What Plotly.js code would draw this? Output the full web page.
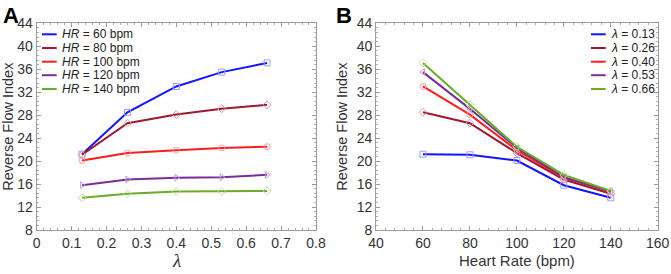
<!DOCTYPE html>
<html><head><meta charset="utf-8">
<script src="https://cdn.plot.ly/plotly-3.0.1.min.js"></script>
<style>body{margin:0;padding:0;background:#fff}#c{width:671px;height:274px}</style>
</head><body><div id="c"></div>
<script>
const lambdas = [0.13, 0.26, 0.40, 0.53, 0.66];
const heartRates = [60, 80, 100, 120, 140];
// Reverse flow index, rows = heart rate, columns = lambda
const rfiHR60  = [21.2, 28.5, 33.0, 35.5, 37.1];
const rfiHR80  = [21.1, 26.6, 28.1, 29.1, 29.8];
const rfiHR100 = [20.1, 21.4, 21.9, 22.3, 22.5];
const rfiHR120 = [15.8, 16.8, 17.1, 17.2, 17.6];
const rfiHR140 = [13.6, 14.3, 14.7, 14.7, 14.8];
const hrLabels = ['<i>HR</i> = 60 bpm','<i>HR</i> = 80 bpm','<i>HR</i> = 100 bpm','<i>HR</i> = 120 bpm','<i>HR</i> = 140 bpm'];
const lambdaLabels = ['<i>λ</i> = 0.13','<i>λ</i> = 0.26','<i>λ</i> = 0.40','<i>λ</i> = 0.53','<i>λ</i> = 0.66'];

const rows = [rfiHR60, rfiHR80, rfiHR100, rfiHR120, rfiHR140];
const lineColors = ['#1414ff', '#a0182e', '#ff1c1c', '#7a2d9a', '#6aac22'];
const markerColors = ['#9a9aff', '#dc98a4', '#ff9a9a', '#c698da', '#bfe09a'];
const symbolsA = ['square-open','diamond-open','circle-open','triangle-right-open','diamond-open'];
const symbolsB = ['square-open','diamond-open','circle-open','triangle-left-open','diamond-open'];

const traces = [];
rows.forEach((r, i) => {
  traces.push({x: lambdas, y: r, xaxis:'x', yaxis:'y', name: hrLabels[i], showlegend:false,
    mode:'lines', line:{color:lineColors[i], width:2}});
  traces.push({x: lambdas, y: r, xaxis:'x', yaxis:'y', showlegend:false, mode:'markers',
    marker:{symbol:symbolsA[i], size:6, color:markerColors[i], line:{width:1, color:markerColors[i]}}});
});
lambdas.forEach((l, j) => {
  const col = rows.map(r => r[j]);
  traces.push({x: heartRates, y: col, xaxis:'x2', yaxis:'y2', name: lambdaLabels[j], showlegend:false,
    mode:'lines', line:{color:lineColors[j], width:2}});
  traces.push({x: heartRates, y: col, xaxis:'x2', yaxis:'y2', showlegend:false, mode:'markers',
    marker:{symbol:symbolsB[j], size:6, color:markerColors[j], line:{width:1, color:markerColors[j]}}});
});

const W = 671, H = 274;
const px = v => v / W, py = v => 1 - v / H;
const FONT = 'Liberation Sans, Arial, sans-serif';

// Hand-built legends (line sample + label)
const shapes = [], annotations = [];
const legendRowsA = [34.3, 48.0, 61.7, 75.2, 89.0];
const legendRowsB = [34.3, 48.0, 61.7, 75.2, 89.0];
hrLabels.forEach((lab, i) => {
  shapes.push({type:'line', xref:'paper', yref:'paper', x0:px(42), x1:px(56.7), y0:py(legendRowsA[i]), y1:py(legendRowsA[i]),
    line:{color:lineColors[i], width:2}});
  annotations.push({text:lab, xref:'paper', yref:'paper', x:px(60), y:py(legendRowsA[i]), xanchor:'left', yanchor:'middle',
    showarrow:false, font:{family:FONT, size:12, color:'#222'}});
});
lambdaLabels.forEach((lab, j) => {
  shapes.push({type:'line', xref:'paper', yref:'paper', x0:px(591), x1:px(605.7), y0:py(legendRowsB[j]), y1:py(legendRowsB[j]),
    line:{color:lineColors[j], width:2}});
  annotations.push({text:lab, xref:'paper', yref:'paper', x:px(609), y:py(legendRowsB[j]), xanchor:'left', yanchor:'middle',
    showarrow:false, font:{family:FONT, size:12, color:'#222'}});
});
annotations.push({text:'<b>A</b>', x:px(1), y:py(1), xref:'paper', yref:'paper', xanchor:'left', yanchor:'top', showarrow:false,
  font:{family:FONT, size:22, color:'#000'}});
annotations.push({text:'<b>B</b>', x:px(334), y:py(1), xref:'paper', yref:'paper', xanchor:'left', yanchor:'top', showarrow:false,
  font:{family:FONT, size:22, color:'#000'}});
// x-axis titles
annotations.push({text:'<i>λ</i>', x:px(176.5), y:py(260), xref:'paper', yref:'paper', xanchor:'center', yanchor:'middle', showarrow:false,
  font:{family:'Liberation Serif, Times New Roman, serif', size:19, color:'#333'}});
annotations.push({text:'Heart Rate (bpm)', x:px(517), y:py(260.5), xref:'paper', yref:'paper', xanchor:'center', yanchor:'middle', showarrow:false,
  font:{family:FONT, size:15, color:'#333'}});

const tickFont = {family:FONT, size:14, color:'#333'};
const axBase = {showgrid:false, zeroline:false, showline:true, linecolor:'#9a9a9a', linewidth:1, mirror:'ticks',
  ticks:'inside', ticklen:4, tickcolor:'#9a9a9a', tickfont:tickFont};
const yBase = Object.assign({}, axBase, {range:[8,44], tickvals:[8,12,16,20,24,28,32,36,40,44],
  minor:{ticks:'inside', ticklen:2, tickcolor:'#b0b0b0', dtick:0.8, showgrid:false},
  title:{text:'Reverse Flow Index', font:{family:FONT, size:14.5, color:'#333'}, standoff:5}});

const layout = {
  width:W, height:H, margin:{l:0,r:0,t:0,b:0}, paper_bgcolor:'#fff', plot_bgcolor:'#fff',
  showlegend:false,
  xaxis: Object.assign({}, axBase, {domain:[0.0547,0.4709], range:[0,0.8], tickvals:[0,0.1,0.2,0.3,0.4,0.5,0.6,0.7,0.8],
    ticktext:['0','0.1','0.2','0.3','0.4','0.5','0.6','0.7','0.8'],
    minor:{ticks:'inside', ticklen:2, tickcolor:'#b0b0b0', dtick:0.02, showgrid:false}, anchor:'y'}),
  yaxis: Object.assign({}, yBase, {domain:[0.1606,0.915], anchor:'x'}),
  xaxis2: Object.assign({}, axBase, {domain:[0.5604,0.9802], range:[40,160], tickvals:[40,60,80,100,120,140,160],
    minor:{ticks:'inside', ticklen:2, tickcolor:'#b0b0b0', dtick:4, showgrid:false}, anchor:'y2'}),
  yaxis2: Object.assign({}, yBase, {domain:[0.1606,0.915], anchor:'x2'}),
  shapes: shapes,
  annotations: annotations
};
Plotly.newPlot('c', traces, layout, {staticPlot:true, displayModeBar:false});
</script></body></html>
